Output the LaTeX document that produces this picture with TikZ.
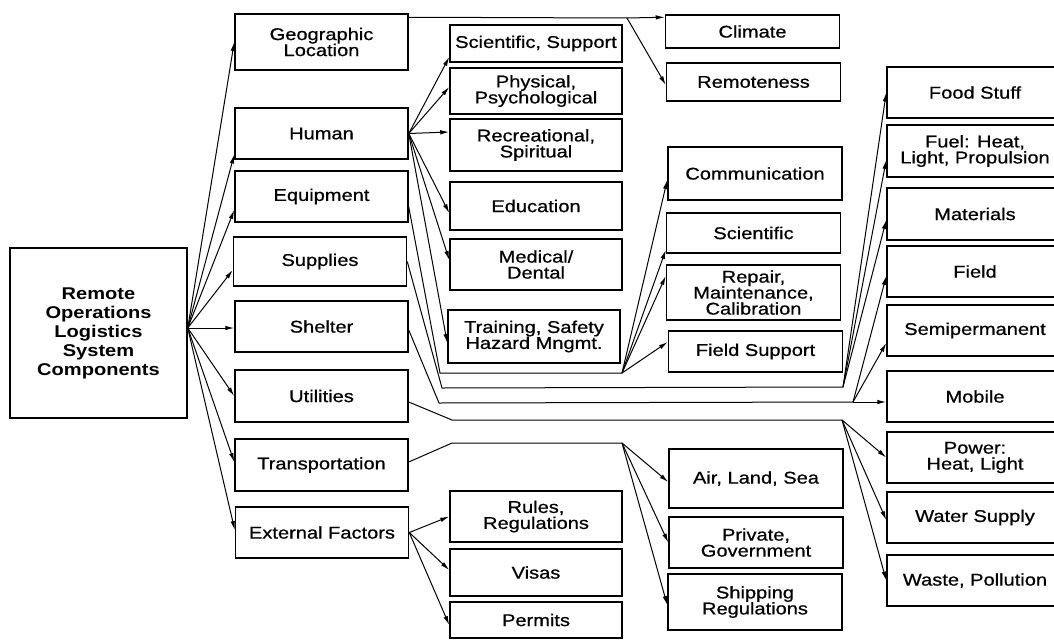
\documentclass[tikz,border=0pt]{standalone}
\usepackage{fontspec}
\setmainfont{Liberation Sans}[FakeStretch=1.18, UprightFeatures={FakeBold=0.7}]
\usetikzlibrary{arrows.meta, positioning}

\tikzset{
	compbox/.style={draw, line width=1.5pt, inner sep=0pt, align=center, font=\fontsize{17}{16}\selectfont},
	colA/.style={compbox, minimum width=173pt},
	colB/.style={compbox, minimum width=172pt},
	colC/.style={compbox, minimum width=174pt},
	colD/.style={compbox, minimum width=176pt},
	link/.style={line width=1pt},
	arr/.style={link, -{Latex[length=9pt, width=4.5pt]}}
}

\begin{document}
\begin{tikzpicture}[x=1pt, y=-1pt]
			\useasboundingbox (0,0) rectangle (1054,640);
			\fill[white] (0,0) rectangle (1054,640);
			\clip (0,0) rectangle (1054,640);

			\node[compbox, minimum width=177pt, minimum height=170pt, font=\bfseries\fontsize{17}{19}\selectfont] (root) at (98.5,333) {Remote\\Operations\\Logistics\\System\\Components};

			\node[colA, minimum height=56pt] (geo) at (321.5,42) {Geographic\\Location};
			\node[colA, minimum height=51pt] (human) at (321.5,133.5) {Human};
			\node[colA, minimum height=51pt] (equip) at (321.5,196.5) {Equipment};
			\node[colA, minimum height=49pt] (supplies) at (320,261.5) {Supplies};
			\node[colA, minimum height=51pt] (shelter) at (321.5,326.5) {Shelter};
			\node[colA, minimum height=52pt] (util) at (321.5,396) {Utilities};
			\node[colA, minimum height=52pt] (trans) at (321.5,465) {Transportation};
			\node[colA, minimum height=51pt] (ext) at (322,532.5) {External Factors};

			\node[colB, minimum height=37pt] (scisup) at (536,43.5) {Scientific, Support};
			\node[colB, minimum height=46pt] (phys) at (536,91) {Physical,\\Psychological};
			\node[colB, minimum height=52pt] (recr) at (536,145) {Recreational,\\Spiritual};
			\node[colB, minimum height=48pt] (edu) at (536,206) {Education};
			\node[colB, minimum height=51pt] (med) at (536,264.5) {Medical/\\Dental};
			\node[colB, minimum height=53pt] (train) at (534,336.5) {Training, Safety\\Hazard Mngmt.};
			\node[colB, minimum height=51pt] (rules) at (536,516.5) {Rules,\\Regulations};
			\node[colB, minimum height=47pt] (visas) at (536,572.5) {Visas};
			\node[colB, minimum height=36pt] (permits) at (536,620) {Permits};

			\node[colC, minimum height=33pt] (climate) at (752.5,31.5) {Climate};
			\node[colC, minimum height=38pt] (remote) at (753.5,82) {Remoteness};
			\node[colC, minimum height=53pt] (comm) at (755,173.5) {Communication};
			\node[colC, minimum height=40pt] (sci) at (753.5,233) {Scientific};
			\node[colC, minimum height=55pt] (repair) at (753.5,292.5) {Repair,\\Maintenance,\\Calibration};
			\node[colC, minimum height=41pt] (fsup) at (755.5,351.5) {Field Support};
			\node[colC, minimum height=59pt] (air) at (756,478.5) {Air, Land, Sea};
			\node[colC, minimum height=51pt] (priv) at (756,542.5) {Private,\\Government};
			\node[colC, minimum height=56pt] (ship) at (755,602) {Shipping\\Regulations};

			\node[colD, minimum height=51pt] (food) at (975,92.5) {Food Stuff};
			\node[colD, minimum height=52pt] (fuel) at (975,151) {Fuel: Heat,\\Light, Propulsion};
			\node[colD, minimum height=52pt] (mat) at (975,214) {Materials};
			\node[colD, minimum height=51pt] (field) at (975,271.5) {Field};
			\node[colD, minimum height=51pt] (semi) at (975,330.5) {Semipermanent};
			\node[colD, minimum height=51pt] (mobile) at (975,396.5) {Mobile};
			\node[colD, minimum height=51pt] (power) at (975,457.5) {Power:\\Heat, Light};
			\node[colD, minimum height=51pt] (water) at (975,517.5) {Water Supply};
			\node[colD, minimum height=51pt] (waste) at (975,580.5) {Waste, Pollution};

			\coordinate (rootout) at ([yshift=5pt]root.east);
			\coordinate (gsplit) at (627,18);
			\coordinate (ebend) at (440,373);
			\coordinate (esplit) at (622,373);
			\coordinate (sbend) at (442,388);
			\coordinate (ssplit) at (843,387);
			\coordinate (shbend) at (439,403);
			\coordinate (shsplit) at (853,402);
			\coordinate (ubend) at (452,420);
			\coordinate (usplit) at (842,420);
			\coordinate (tbend) at (452,443);
			\coordinate (tsplit) at (622,443);

			\draw[arr] (rootout) -- (geo.west);
			\draw[arr] (rootout) -- ([yshift=-21pt]human.west);
			\draw[arr] (rootout) -- ([yshift=-13.5pt]equip.west);
			\draw[arr] (rootout) -- ([yshift=-8.5pt]supplies.west);
			\draw[arr] (rootout) -- ([yshift=-1.5pt]shelter.west);
			\draw[arr] (rootout) -- (util.west);
			\draw[arr] (rootout) -- ([yshift=3pt]trans.west);
			\draw[arr] (rootout) -- ([yshift=2.5pt]ext.west);

			\draw[link] ([yshift=-4pt]geo.north east) -- (gsplit);
			\draw[arr] (gsplit) -- ([yshift=-3pt]climate.north west);
			\draw[arr] (gsplit) -- ([yshift=-3pt]remote.west);

			\draw[arr] (human.east) -- ([yshift=-13.5pt]scisup.west);
			\draw[arr] (human.east) -- ([yshift=4pt]phys.west);
			\draw[arr] (human.east) -- ([yshift=13pt]recr.west);
			\draw[arr] (human.east) -- ([yshift=-7pt]edu.west);
			\draw[arr] (human.east) -- ([yshift=4.5pt]med.west);
			\draw[arr] (human.east) -- ([yshift=-6.5pt]train.west);

			\draw[link] ([yshift=-10.5pt]equip.east) -- (ebend) -- (esplit);
			\draw[arr] (esplit) -- ([yshift=-6.5pt]comm.west);
			\draw[arr] (esplit) -- ([yshift=-17pt]sci.west);
			\draw[arr] (esplit) -- ([yshift=16.5pt]repair.west);
			\draw[arr] (esplit) -- ([yshift=9.5pt]fsup.west);

			\draw[link] (supplies.east) -- (sbend) -- (ssplit);
			\draw[arr] (ssplit) -- (food.west);
			\draw[arr] (ssplit) -- ([yshift=-9pt]fuel.west);
			\draw[arr] (ssplit) -- ([yshift=-6pt]mat.west);

			\draw[link] ([yshift=-3.5pt]shelter.east) -- (shbend) -- (shsplit);
			\draw[arr] (shsplit) -- ([yshift=-4.5pt]field.west);
			\draw[arr] (shsplit) -- ([yshift=-12.5pt]semi.west);
			\draw[arr] (shsplit) -- ([yshift=-5.5pt]mobile.west);

			\draw[link] ([yshift=-6pt]util.east) -- (ubend) -- (usplit);
			\draw[arr] (usplit) -- (power.west);
			\draw[arr] (usplit) -- ([yshift=-2.5pt]water.west);
			\draw[arr] (usplit) -- (waste.west);

			\draw[link] ([yshift=3pt]trans.east) -- (tbend) -- (tsplit);
			\draw[arr] (tsplit) -- ([yshift=-3.5pt]air.west);
			\draw[arr] (tsplit) -- (priv.west);
			\draw[arr] (tsplit) -- ([yshift=-3pt]ship.west);

			\draw[arr] (ext.east) -- (rules.west);
			\draw[arr] (ext.east) -- ([yshift=2.5pt]visas.west);
			\draw[arr] (ext.east) -- ([yshift=-5pt]permits.west);
\end{tikzpicture}
\end{document}
